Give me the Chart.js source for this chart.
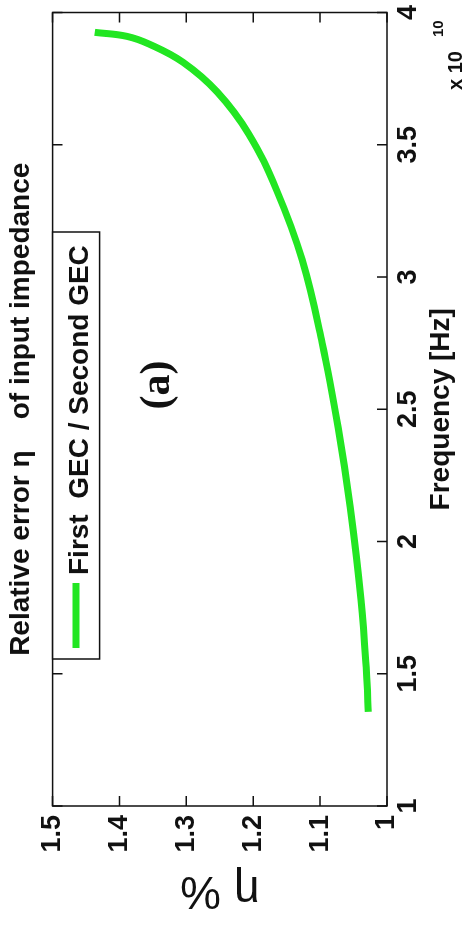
<!DOCTYPE html>
<html>
<head>
<meta charset="utf-8">
<script src="https://cdn.jsdelivr.net/npm/chart.js@4.4.1/dist/chart.umd.min.js"></script>
<style>
  html, body { margin: 0; padding: 0; background: #fff; overflow: hidden; }
  /* the figure is drawn landscape and turned a quarter turn to the left */
  #wrap {
    position: absolute; left: 0; top: 926px;
    width: 926px; height: 469px;
    transform-origin: 0 0; transform: rotate(-90deg);
  }
</style>
</head>
<body>
<div id="wrap"><canvas id="myChart" width="926" height="469"></canvas></div>
<script>
// frequency [Hz] and relative error eta [%]
var freqHz = [1.356e10, 1.469e10, 1.780e10, 2.129e10, 2.429e10, 2.751e10, 3.066e10,
              3.328e10, 3.542e10, 3.700e10, 3.812e10, 3.880e10, 3.910e10, 3.925e10];
var etaPct = [1.028, 1.030, 1.039, 1.055, 1.073, 1.097, 1.127,
              1.165, 1.207, 1.254, 1.305, 1.355, 1.389, 1.437];

var seriesLabel = "First  GEC / Second GEC";
var chartTitle = "Relative error \u03b7    of input impedance";
var xTitle = "Frequency [Hz]";
var yTitle = "\u03b7 %";
var panelTag = "(a)";
var freqTicks = { min: 1e10, max: 4e10, step: 0.5e10 };
var etaTicks = { min: 1, max: 1.5, step: 0.1 };

var sans = "'Liberation Sans', Arial, sans-serif";
var ink = "#111";
var green = "#22e622";

var points = freqHz.map(function (f, i) { return { x: f, y: etaPct[i] }; });

// frame, inward ticks on all four sides, boxed legend, panel tag and exponent
var decor = {
  id: "decor",
  afterDraw: function (chart) {
    var ctx = chart.ctx;
    var a = chart.chartArea;
    var xs = chart.scales.x, ys = chart.scales.y;
    ctx.save();
    ctx.strokeStyle = ink;
    ctx.lineWidth = 1.5;
    ctx.strokeRect(a.left, a.top, a.right - a.left, a.bottom - a.top);

    ctx.beginPath();
    xs.ticks.forEach(function (t) {
      var p = xs.getPixelForValue(t.value);
      ctx.moveTo(p, a.bottom); ctx.lineTo(p, a.bottom - 10);
      ctx.moveTo(p, a.top); ctx.lineTo(p, a.top + 10);
    });
    ys.ticks.forEach(function (t) {
      var p = ys.getPixelForValue(t.value);
      ctx.moveTo(a.left, p); ctx.lineTo(a.left + 10, p);
      ctx.moveTo(a.right, p); ctx.lineTo(a.right - 10, p);
    });
    ctx.stroke();

    // legend box sitting on the top edge of the plot
    var lx = 267, lw = 427, lh = 47;
    ctx.fillStyle = "#fff";
    ctx.fillRect(lx, a.top, lw, lh);
    ctx.strokeRect(lx, a.top, lw, lh);
    var ds = chart.data.datasets[0];
    ctx.strokeStyle = ds.borderColor;
    ctx.lineWidth = 7;
    ctx.beginPath();
    ctx.moveTo(lx + 11, a.top + lh / 2);
    ctx.lineTo(lx + 76, a.top + lh / 2);
    ctx.stroke();
    ctx.fillStyle = ink;
    ctx.font = "bold 28px " + sans;
    ctx.textBaseline = "alphabetic";
    ctx.textAlign = "left";
    ctx.fillText(ds.label, lx + 84, a.top + 35);

    // panel tag
    ctx.font = "bold 42px 'Liberation Serif', 'Times New Roman', serif";
    ctx.textAlign = "center";
    ctx.textBaseline = "middle";
    ctx.fillText(panelTag, 541, 158);

    // axis multiplier
    ctx.textAlign = "left";
    ctx.textBaseline = "alphabetic";
    ctx.font = "bold 20px " + sans;
    ctx.fillText("x 10", 836, 462);
    ctx.font = "bold 15px " + sans;
    ctx.fillText("10", 889, 443);
    ctx.restore();
  }
};

var myChart = new Chart("myChart", {
  type: "line",
  data: {
    datasets: [
      {
        label: seriesLabel,
        data: points,
        borderColor: green,
        backgroundColor: green,
        borderWidth: 7,
        pointRadius: 0,
        fill: false,
        tension: 0.4,
      },
    ],
  },
  options: {
    responsive: false,
    animation: false,
    devicePixelRatio: 1,
    layout: { padding: { left: 0, right: 8, top: 0, bottom: 0 } },
    plugins: {
      legend: { display: false },
      tooltip: { enabled: false },
      title: {
        display: true,
        text: chartTitle,
        fullSize: false,
        color: ink,
        font: { family: sans, size: 28, weight: "bold" },
        padding: { top: 4, bottom: 15 },
      },
    },
    scales: {
      x: {
        type: "linear",
        position: "bottom",
        min: freqTicks.min,
        max: freqTicks.max,
        grid: { display: false, drawTicks: false },
        border: { display: false },
        ticks: {
          stepSize: freqTicks.step,
          autoSkip: false,
          maxRotation: 0,
          padding: 5,
          color: ink,
          font: { family: sans, size: 27, weight: "bold" },
          callback: function (v) { return String(Math.round(v / 1e9) / 10); },
        },
        title: {
          display: true,
          text: xTitle,
          color: ink,
          font: { family: sans, size: 28, weight: "bold" },
          padding: { top: 0, bottom: 11 },
        },
        afterFit: function (s) { s.height = 82; },
      },
      y: {
        type: "linear",
        min: etaTicks.min,
        max: etaTicks.max,
        grid: { display: false, drawTicks: false },
        border: { display: false },
        ticks: {
          stepSize: etaTicks.step,
          autoSkip: false,
          padding: 9,
          color: ink,
          font: { family: sans, size: 27, weight: "bold" },
          callback: function (v) { return String(Math.round(v * 10) / 10); },
        },
        title: {
          display: true,
          text: yTitle,
          color: ink,
          font: { family: sans, size: 46 },
          padding: { top: 9, bottom: 0 },
        },
        afterFit: function (s) { s.width = 120; },
      },
    },
  },
  plugins: [decor],
});
</script>
</body>
</html>
